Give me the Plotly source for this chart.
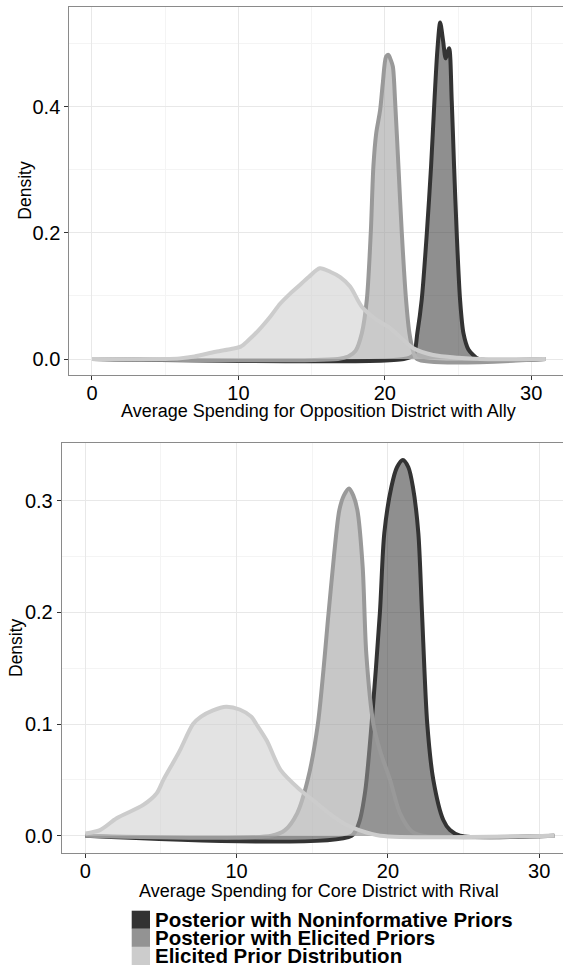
import plotly.graph_objects as go

# ---------------------------------------------------------------------------
# Posterior / prior densities for average spending (read as x, density pairs)
# ---------------------------------------------------------------------------

# Panel 1: Opposition District with Ally
ally_noninf_x = [0, 21.3, 21.95, 22.22, 22.52, 22.87, 23.16, 23.39, 23.59, 23.78,
                 23.98, 24.16, 24.39, 24.57, 24.73, 24.91, 25.14, 25.37, 25.71,
                 26.05, 26.4, 31]
ally_noninf_y = [0, 0, 0.006, 0.041, 0.094, 0.2, 0.306, 0.41, 0.49, 0.534,
                 0.505, 0.477, 0.493, 0.41, 0.306, 0.2, 0.094, 0.041, 0.015,
                 0.006, 0, 0]

ally_elicited_x = [0, 16.8, 17.5, 18.0, 18.43, 18.77, 19.04, 19.22, 19.41, 19.68,
                   19.86, 20.09, 20.25, 20.4, 20.55, 20.7, 20.93, 21.16, 21.45,
                   21.68, 21.91, 22.2, 31]
ally_elicited_y = [0, 0, 0.004, 0.013, 0.041, 0.094, 0.2, 0.306, 0.358, 0.395,
                   0.437, 0.48, 0.4825, 0.475, 0.464, 0.41, 0.306, 0.2, 0.094,
                   0.041, 0.015, 0, 0]

ally_prior_x = [0, 5.0, 6.0, 7.0, 8.45, 9.5, 10.16, 10.7, 11.39, 12.2, 12.86,
                13.5, 14.08, 14.8, 15.56, 16.3, 16.95, 17.63, 18.43, 19.45,
                20.36, 21.27, 21.95, 23.3, 25.0, 26.5, 31]
ally_prior_y = [0, 0, 0.001, 0.004, 0.0116, 0.016, 0.0196, 0.03, 0.046, 0.068,
                0.088, 0.103, 0.115, 0.13, 0.144, 0.138, 0.13, 0.115, 0.083,
                0.062, 0.049, 0.03, 0.017, 0.0063, 0.002, 0, 0]

# Panel 2: Core District with Rival
rival_noninf_x = [0, 17.6, 18.1, 18.5, 18.92, 19.47, 19.76, 20.23, 20.6, 20.99,
                  21.35, 21.65, 22.01, 22.25, 22.6, 23.0, 23.66, 24.1, 24.77, 31]
rival_noninf_y = [0, 0, 0.012, 0.04, 0.1, 0.2, 0.271, 0.3125, 0.33, 0.3365,
                  0.33, 0.3125, 0.271, 0.2, 0.1, 0.05, 0.014, 0.005, 0, 0]

rival_elicited_x = [0, 12.3, 13.2, 14.0, 14.7, 15.37, 16.08, 16.43, 16.79, 17.1,
                    17.43, 17.7, 17.98, 18.33, 18.57, 19.04, 19.5, 20.14, 20.8,
                    21.57, 22.3, 31]
rival_elicited_y = [0, 0, 0.005, 0.02, 0.05, 0.1, 0.2, 0.25, 0.2917, 0.305,
                    0.311, 0.305, 0.2917, 0.241, 0.163, 0.1, 0.075, 0.05, 0.02,
                    0.004, 0, 0]

rival_prior_x = [0, 0.97, 2.07, 3.83, 4.72, 5.16, 6.2, 7.12, 7.65, 8.4, 9.31,
                 10.2, 10.97, 11.3, 12.0, 12.9, 14.2, 15.2, 16.2, 17.2, 18.1,
                 19.5, 31]
rival_prior_y = [0.002, 0.005, 0.0156, 0.0275, 0.038, 0.05, 0.075, 0.1, 0.1066,
                 0.112, 0.1155, 0.113, 0.1066, 0.1, 0.085, 0.059, 0.041, 0.03,
                 0.019, 0.01, 0.005, 0, 0]

series_names = ["Posterior with Noninformative Priors",
                "Posterior with Elicited Priors",
                "Elicited Prior Distribution"]

panel_titles = ["Average Spending for Opposition District with Ally",
                "Average Spending for Core District with Rival"]

x_ticks = [0, 10, 20, 30]

# ---------------------------------------------------------------------------
# Styling
# ---------------------------------------------------------------------------
W, H = 563, 967
FONT = "Liberation Sans, Arial, Helvetica, sans-serif"
line_colors = ["#333333", "#999999", "#cccccc"]
fill_colors = ["rgba(51,51,51,0.55)", "rgba(153,153,153,0.55)",
               "rgba(204,204,204,0.55)"]
key_colors = ["#333333", "#939393", "#cccccc"]


def px_x(p):
    return p / W


def px_y(p):
    return 1 - p / H


fig = go.Figure()

panels = [
    ("x", "y", [(ally_noninf_x, ally_noninf_y),
                (ally_elicited_x, ally_elicited_y),
                (ally_prior_x, ally_prior_y)]),
    ("x2", "y2", [(rival_noninf_x, rival_noninf_y),
                  (rival_elicited_x, rival_elicited_y),
                  (rival_prior_x, rival_prior_y)]),
]

for xa, ya, curves in panels:
    for i, (xs, ys) in enumerate(curves):
        fig.add_trace(go.Scatter(
            x=xs, y=ys, xaxis=xa, yaxis=ya,
            mode="lines", name=series_names[i], showlegend=False,
            line=dict(color=line_colors[i], width=4, shape="spline",
                      smoothing=0.8),
            fill="tozeroy", fillcolor=fill_colors[i],
            hoverinfo="skip",
        ))

axis_common = dict(
    showgrid=True, gridcolor="#e8e8e8", gridwidth=1,
    zeroline=False, showline=True, linecolor="#8a8a8a", linewidth=1,
    ticks="outside", ticklen=4, tickcolor="#333333", tickwidth=1,
    tickfont=dict(family=FONT, size=20, color="#000000"),
)

fig.update_layout(
    width=W, height=H,
    margin=dict(l=0, r=0, t=0, b=0),
    paper_bgcolor="white", plot_bgcolor="white",
    showlegend=False,
    font=dict(family=FONT, color="#000000"),
    xaxis=dict(**axis_common, domain=[px_x(69.3), 1.0], range=[-1.55, 32.17],
               tickmode="array", tickvals=x_ticks, mirror=True, anchor="y",
               ticklabelstandoff=-4,
               minor=dict(tickmode="array", tickvals=[5, 15, 25], showgrid=True,
                          gridcolor="#f4f4f4", ticks="")),
    yaxis=dict(**axis_common, domain=[px_y(374.7), px_y(6.7)],
               range=[-0.0249, 0.559], tick0=0, dtick=0.2, tickformat=".1f",
               anchor="x",
               minor=dict(tickmode="array", tickvals=[0.1, 0.3, 0.5],
                          showgrid=True, gridcolor="#f4f4f4", ticks="")),
    xaxis2=dict(**axis_common, domain=[px_x(61.7), 1.0], range=[-1.56, 31.57],
                tickmode="array", tickvals=x_ticks, mirror=True, anchor="y2",
                ticklabelstandoff=-4,
                minor=dict(tickmode="array", tickvals=[5, 15, 25], showgrid=True,
                           gridcolor="#f4f4f4", ticks="")),
    yaxis2=dict(**axis_common, domain=[px_y(853.3), px_y(442.7)],
                range=[-0.0158, 0.352], tick0=0, dtick=0.1, tickformat=".1f",
                anchor="x2",
                minor=dict(tickmode="array", tickvals=[0.05, 0.15, 0.25],
                           showgrid=True, gridcolor="#f4f4f4", ticks="")),
)

annotations = [
    dict(text=panel_titles[0], x=px_x(318.6), y=px_y(411), xref="paper",
         yref="paper", showarrow=False, xanchor="center", yanchor="middle",
         font=dict(family=FONT, size=18, color="#000000")),
    dict(text=panel_titles[1], x=px_x(319), y=px_y(891), xref="paper",
         yref="paper", showarrow=False, xanchor="center", yanchor="middle",
         font=dict(family=FONT, size=18, color="#000000")),
    dict(text="Density", x=px_x(25), y=px_y(190.7), xref="paper", yref="paper",
         showarrow=False, textangle=-90, xanchor="center", yanchor="middle",
         font=dict(family=FONT, size=17.5, color="#000000")),
    dict(text="Density", x=px_x(16), y=px_y(648), xref="paper", yref="paper",
         showarrow=False, textangle=-90, xanchor="center", yanchor="middle",
         font=dict(family=FONT, size=17.5, color="#000000")),
]

# Legend: stacked colour keys with bold labels
key_top, key_h = 910.7, 18.1
shapes = []
for i, name in enumerate(series_names):
    y0 = key_top + i * key_h
    shapes.append(dict(type="rect", xref="paper", yref="paper",
                       x0=px_x(131.7), x1=px_x(150), y0=px_y(y0 + key_h),
                       y1=px_y(y0), fillcolor=key_colors[i], line=dict(width=0),
                       layer="above"))
    annotations.append(dict(text="<b>%s</b>" % name, x=px_x(153),
                            y=px_y(y0 + key_h / 2), xref="paper", yref="paper",
                            showarrow=False, xanchor="left", yanchor="middle",
                            font=dict(family=FONT, size=20.5, color="#000000")))

fig.update_layout(annotations=annotations, shapes=shapes)

fig.write_html("out.html")
